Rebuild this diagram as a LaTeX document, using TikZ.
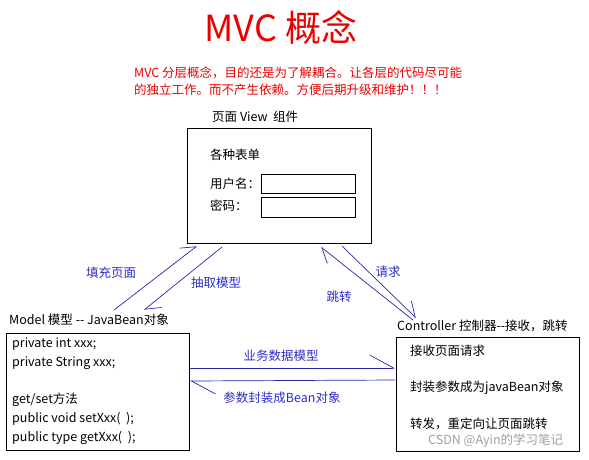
\documentclass[tikz,border=0pt]{standalone}
\usepackage{fontspec}
\setmainfont{Noto Sans CJK SC}
\usetikzlibrary{arrows.meta}
\newcommand{\bodyfont}{\fontsize{12.5}{18.8}\selectfont}
\definecolor{titlered}{RGB}{235,0,0}
\definecolor{linkblue}{RGB}{40,40,165}
\definecolor{labelblue}{RGB}{45,45,200}
\tikzset{
  box/.style={draw, line width=0.9pt, inner sep=0pt},
  field/.style={draw, line width=0.9pt, minimum width=94pt, minimum height=19pt, inner sep=0pt},
  txt/.style={font=\bodyfont, inner sep=0pt, anchor=west},
  lbl/.style={font=\bodyfont, text=labelblue, inner sep=0pt},
  link/.style={draw=linkblue, line width=0.7pt, -{Straight Barb[left,length=14pt,width=18pt]}},
  wlink/.style={draw=linkblue, line width=0.7pt, -{Straight Barb[left,length=24pt,width=26pt]}},
}
\begin{document}
\begin{tikzpicture}[x=1pt,y=-1pt]
   \useasboundingbox (0,0) rectangle (589,459);
   % title and note
   \node[font=\fontsize{36}{40}\selectfont, text=titlered] (title) at (281,28) {MVC 概念};
   \node[txt, text=titlered] (note1) at (134,73) {MVC 分层概念，目的还是为了解耦合。让各层的代码尽可能};
   \node[txt, text=titlered] (note2) at (134,90) {的独立工作。而不产生依赖。方便后期升级和维护！！！};
   % view
   \node[box, minimum width=184pt, minimum height=115pt] (view) at (279,185.5) {};
   \node[txt] (viewlbl) at (212,117) {页面 View\ \ 组件};
   \node[txt] (forms) at (210,155) {各种表单};
   \node[txt] (userlbl) at (210,184) {用户名：};
   \node[txt] (pwdlbl) at (210,206) {密码：};
   \node[field] (user) at (308,183.5) {};
   \node[field, minimum height=20pt] (pwd) at (308,207) {};
   % model
   \node[box, minimum width=183pt, minimum height=117pt] (model) at (97.5,391.5) {};
   \node[txt] (modellbl) at (9,320) {Model 模型 -{}- JavaBean对象};
   \node[txt, align=left] (fields) at (12,391) {private int xxx;\\private String xxx;\\[18.8pt]get/set方法\\public void setXxx(\ \ );\\public type getXxx(\ \ );};
   % controller
   \node[box, minimum width=183pt, minimum height=114pt] (ctrl) at (487.5,394) {};
   \node[txt] (ctrllbl) at (397,326) {Controller 控制器-{}-接收，跳转};
   \node[txt] (recv) at (410,351) {接收页面请求};
   \node[txt] (wrap) at (410,388) {封装参数成为javaBean对象};
   \node[txt] (fwd) at (410,424) {转发，重定向让页面跳转};
   \node[txt, text=gray!75] (mark) at (428,441) {CSDN @Ayin的学习笔记};
   % connector ends
   \coordinate (fillA) at (114,310);
   \coordinate (fillB) at (197,246);
   \coordinate (pullA) at (222,247);
   \coordinate (pullB) at (144,310);
   \coordinate (jumpA) at (413,320);
   \coordinate (jumpB) at (321,247);
   \coordinate (askA) at (342,246);
   \coordinate (askB) at (416,318);
   \coordinate (bizA) at (190,368);
   \coordinate (bizB) at (395,368);
   \coordinate (packA) at (395,380);
   \coordinate (packB) at (190,381);
   \draw[link] (fillA) -- (fillB);
   \draw[link] (pullA) -- (pullB);
   \draw[link] (jumpA) -- (jumpB);
   \draw[link] (askA) -- (askB);
   \draw[wlink] (bizA) -- (bizB);
   \draw[wlink] (packA) -- (packB);
   \node[lbl] (fillLbl) at (111,273) {填充页面};
   \node[lbl] (pullLbl) at (216,283) {抽取模型};
   \node[lbl] (jumpLbl) at (339,297) {跳转};
   \node[lbl] (askLbl) at (388,272) {请求};
   \node[lbl] (bizLbl) at (281,356) {业务数据模型};
   \node[lbl] (packLbl) at (282,398) {参数封装成Bean对象};
\end{tikzpicture}
\end{document}
